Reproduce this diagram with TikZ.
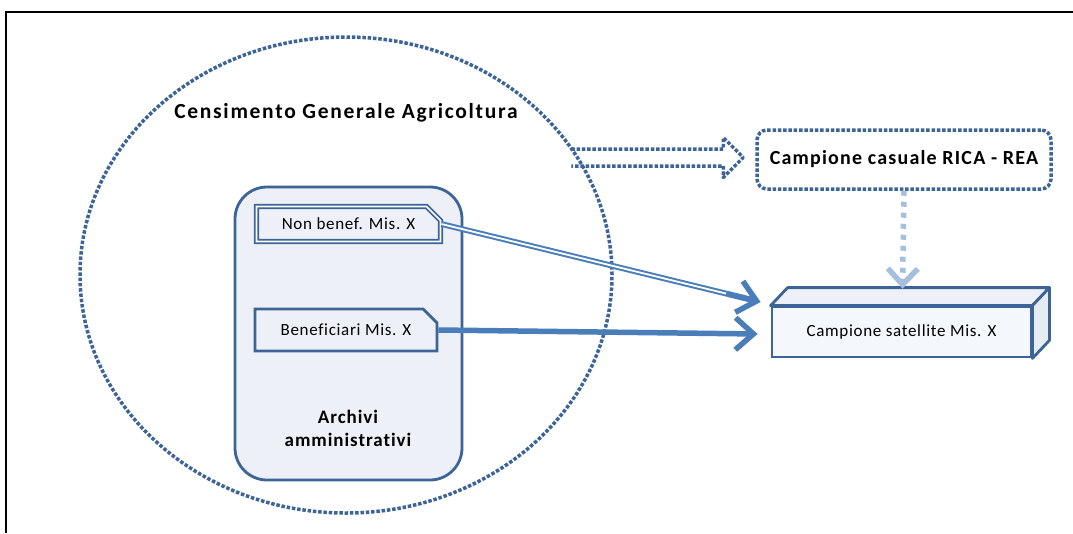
\documentclass[tikz,border=0pt]{standalone}
\usepackage{fontspec}
\setmainfont{Carlito}[LetterSpace=4,Ligatures={NoCommon,NoRare}]
\usetikzlibrary{shapes.geometric,shapes.misc,arrows.meta,calc}
\definecolor{bordo}{HTML}{3C6496}
\definecolor{blu}{HTML}{4A7EBB}
\definecolor{chiaro}{HTML}{A7BFDE}
\definecolor{sfondo}{HTML}{EDF1F7}
\definecolor{fronte}{HTML}{F4F7FB}
\definecolor{lato}{HTML}{E6ECF4}
\newcommand\testo{\fontsize{17}{20}\selectfont}
\newcommand\titolo{\fontsize{21.5}{24}\selectfont\bfseries\addfontfeatures{LetterSpace=8}}
\newcommand\archivio{\fontsize{19}{23}\selectfont\bfseries\addfontfeatures{LetterSpace=5}}
\newcommand\casuale{\fontsize{20}{22}\selectfont\bfseries\addfontfeatures{LetterSpace=6}}
\tikzset{
    puntini/.style={draw=bordo,line width=3.5pt,dash pattern=on 3.5pt off 1.8pt},
    scheda/.style={chamfered rectangle,chamfered rectangle corners=north east,
        chamfered rectangle xsep=8pt,chamfered rectangle ysep=8pt,
        fill=sfondo,inner sep=0pt,font=\testo},
    punta/.style={line width=5.5pt,line cap=round,line join=round,blu,
        -{Straight Barb[length=18pt,width=32pt,line width=5.5pt]}}
}
\begin{document}
\begin{tikzpicture}[x=1pt,y=-1pt]
    \useasboundingbox (0,0) rectangle (1073,533);
    \draw[line width=2pt] (6,533) -- (6,12) -- (1073,12);
    \node[ellipse,puntini,minimum width=532,minimum height=476] (cga) at (346,275) {};
    \node[font=\titolo] (cgat) at (346,113) {Censimento Generale Agricoltura};
    \node[draw=bordo,line width=2.8pt,fill=sfondo,rounded corners=32pt,
        minimum width=227,minimum height=293] (arch) at (348.5,333.5) {};
    \node[font=\archivio,align=center] (archt) at (348,428) {Archivi\\amministrativi};
    \node[scheda,draw=bordo,line width=1.8pt,double=white,double distance=1.6pt,
        minimum width=184,minimum height=35] (nb) at (348.5,224) {Non benef. Mis. X};
    \node[scheda,draw=bordo,line width=2.8pt,
        minimum width=182,minimum height=42] (ben) at (346,330) {Beneficiari Mis. X};
    \node[puntini,rounded corners=10pt,minimum width=294,minimum height=59,
        font=\casuale] (rica) at (904,159.5) {Campione casuale RICA - REA};
    \node[draw=bordo,line width=2.8pt,fill=fronte,minimum width=259,minimum height=50,
        font=\testo] (sat) at (901.5,332) {Campione satellite Mis. X};
    \draw[bordo,line width=2.8pt,line join=round,fill=sfondo] (sat.north west) -- ++(17,-18)
        -- ($(sat.north east)+(17,-18)$) -- (sat.north east) -- cycle;
    \draw[bordo,line width=2.8pt,line join=round,fill=lato] (sat.north east) -- ++(17,-18)
        -- ($(sat.south east)+(17,-18)$) -- (sat.south east) -- cycle;
    \coordinate (t1) at ($(sat.west)+(-10,-30)$);
    \coordinate (t2) at ($(sat.west)+(-13,2)$);
    \coordinate (t3) at ($(sat.north)+(1,-17)$);
    \coordinate (bt) at ($(rica.west)+(-12,-2)$);
    \draw[blu,line width=2pt,double=white,double distance=1.8pt] (nb.east) -- ($(nb.east)!0.97!(t1)$);
    \draw[punta] ($(nb.east)!0.9!(t1)$) -- (t1);
    \draw[punta,line cap=butt] (ben.east) -- (t2);
    \draw[puntini,line join=round] ($(bt)+(-172,-8.5)$) -- ($(bt)+(-20,-8.5)$) -- ($(bt)+(-20,-20)$)
        -- (bt) -- ($(bt)+(-20,20)$) -- ($(bt)+(-20,8.5)$) -- ($(bt)+(-172,8.5)$);
    \draw[chiaro,line width=5.5pt,dash pattern=on 5pt off 6pt,
        -{Straight Barb[length=16pt,width=30pt,line width=5.5pt]}] (rica.south) -- (t3);
\end{tikzpicture}
\end{document}
